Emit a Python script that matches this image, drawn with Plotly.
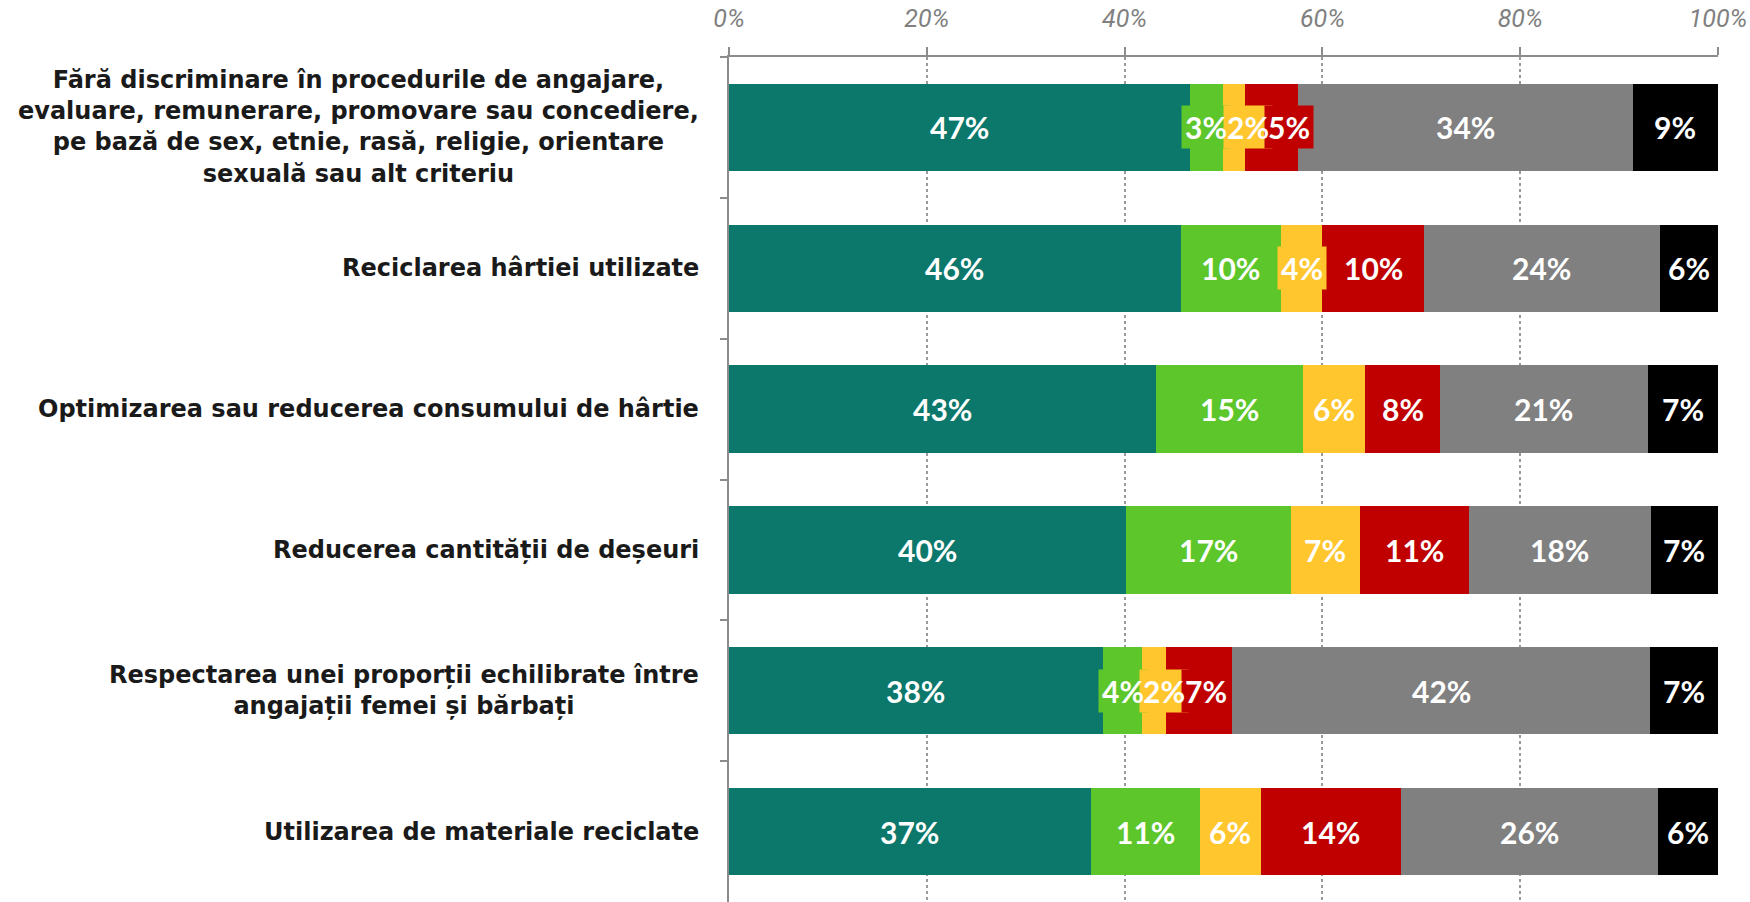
import plotly.graph_objects as go

categories = [
    "Fără discriminare în procedurile de angajare,<br>evaluare, remunerare, promovare sau concediere,<br>pe bază de sex, etnie, rasă, religie, orientare<br>sexuală sau alt criteriu",
    "Reciclarea hârtiei utilizate",
    "Optimizarea sau reducerea consumului de hârtie",
    "Reducerea cantității de deșeuri",
    "Respectarea unei proporții echilibrate între<br>angajații femei și bărbați",
    "Utilizarea de materiale reciclate",
]

series_names = ["Seria 1", "Seria 2", "Seria 3", "Seria 4", "Seria 5", "Seria 6"]
s1 = [46.6, 45.7, 43.2, 40.1, 37.8, 36.6]
s2 = [3.3, 10.1, 14.8, 16.7, 4.0, 11.0]
s3 = [2.3, 4.2, 6.3, 7.0, 2.4, 6.2]
s4 = [5.3, 10.3, 7.6, 11.0, 6.7, 14.1]
s5 = [33.9, 23.8, 21.0, 18.4, 42.2, 26.0]
s6 = [8.6, 5.9, 7.1, 6.8, 6.9, 6.1]
series = [s1, s2, s3, s4, s5, s6]
colors = ["#0B786B", "#5CC62B", "#FFC62D", "#C00000", "#808080", "#000000"]

tick_vals = [0, 20, 40, 60, 80, 100]
tick_text = ["0%", "20%", "40%", "60%", "80%", "100%"]

fig = go.Figure()
for name, vals, col in zip(series_names, series, colors):
    fig.add_trace(go.Bar(
        y=categories, x=vals, name=name, orientation="h",
        marker=dict(color=col, line=dict(width=0)),
        hoverinfo="x+y",
    ))

label_font = dict(family="Lato, Open Sans, sans-serif", size=30, color="white", weight="bold")


def label_width(txt):
    # approximate rendered width in axis units (percent)
    return 1.76 * (len(txt) - 1) + 2.43


box_anns = []
text_anns = []
for ci, cat in enumerate(categories):
    start = 0.0
    prev_c, prev_w = None, None
    for vals, col in zip(series, colors):
        v = vals[ci]
        center = start + v / 2
        txt = f"{int(v + 0.5):d}%"
        w = label_width(txt)
        if prev_c is not None and center - prev_c < (prev_w + w) / 2:
            center = prev_c + (prev_w + w) / 2
        prev_c, prev_w = center, w
        box_anns.append(dict(
            x=center, y=cat, xref="x", yref="y", text=txt, showarrow=False,
            bgcolor=col, borderpad=3,
            font=dict(label_font, color="rgba(0,0,0,0)"),
        ))
        text_anns.append(dict(
            x=center, y=cat, xref="x", yref="y", text=txt, showarrow=False,
            borderpad=3, font=label_font,
        ))
        start += v

cat_anns = []
for cat in categories:
    cat_anns.append(dict(
        x=0, y=cat, xref="paper", yref="y", xanchor="right", yanchor="middle",
        xshift=-28, text=cat, showarrow=False, align="center",
        font=dict(family="DejaVu Sans, sans-serif", size=24, color="#1a1a1a", weight="bold"),
    ))

fig.update_layout(
    width=1750, height=902,
    margin=dict(l=729, r=32, t=57, b=0, autoexpand=False),
    barmode="stack", bargap=0.38,
    showlegend=False,
    plot_bgcolor="white", paper_bgcolor="white",
    annotations=cat_anns + box_anns + text_anns,
    xaxis=dict(
        side="top", range=[0, 100], tickvals=tick_vals, ticktext=tick_text,
        showline=True, linecolor="#8c8c8c", linewidth=2,
        ticks="outside", ticklen=8, tickcolor="#8c8c8c", tickwidth=2,
        showgrid=True, gridcolor="#9a9a9a", griddash="dot", gridwidth=1.5,
        zeroline=False, ticklabelstandoff=10, automargin=False,
        tickfont=dict(family="Liberation Sans Narrow, Roboto, sans-serif", size=25,
                      color="#808080", style="italic"),
    ),
    yaxis=dict(
        autorange="reversed", showticklabels=False, automargin=False,
        showline=True, linecolor="#8c8c8c", linewidth=2,
        ticks="outside", tickson="boundaries", ticklen=7, tickcolor="#8c8c8c", tickwidth=2,
        showgrid=False, zeroline=False,
    ),
)

fig.write_html(
    "out.html",
    config={"displayModeBar": False},
    post_script="document.body.style.margin='0';document.body.style.overflow='hidden';",
)
